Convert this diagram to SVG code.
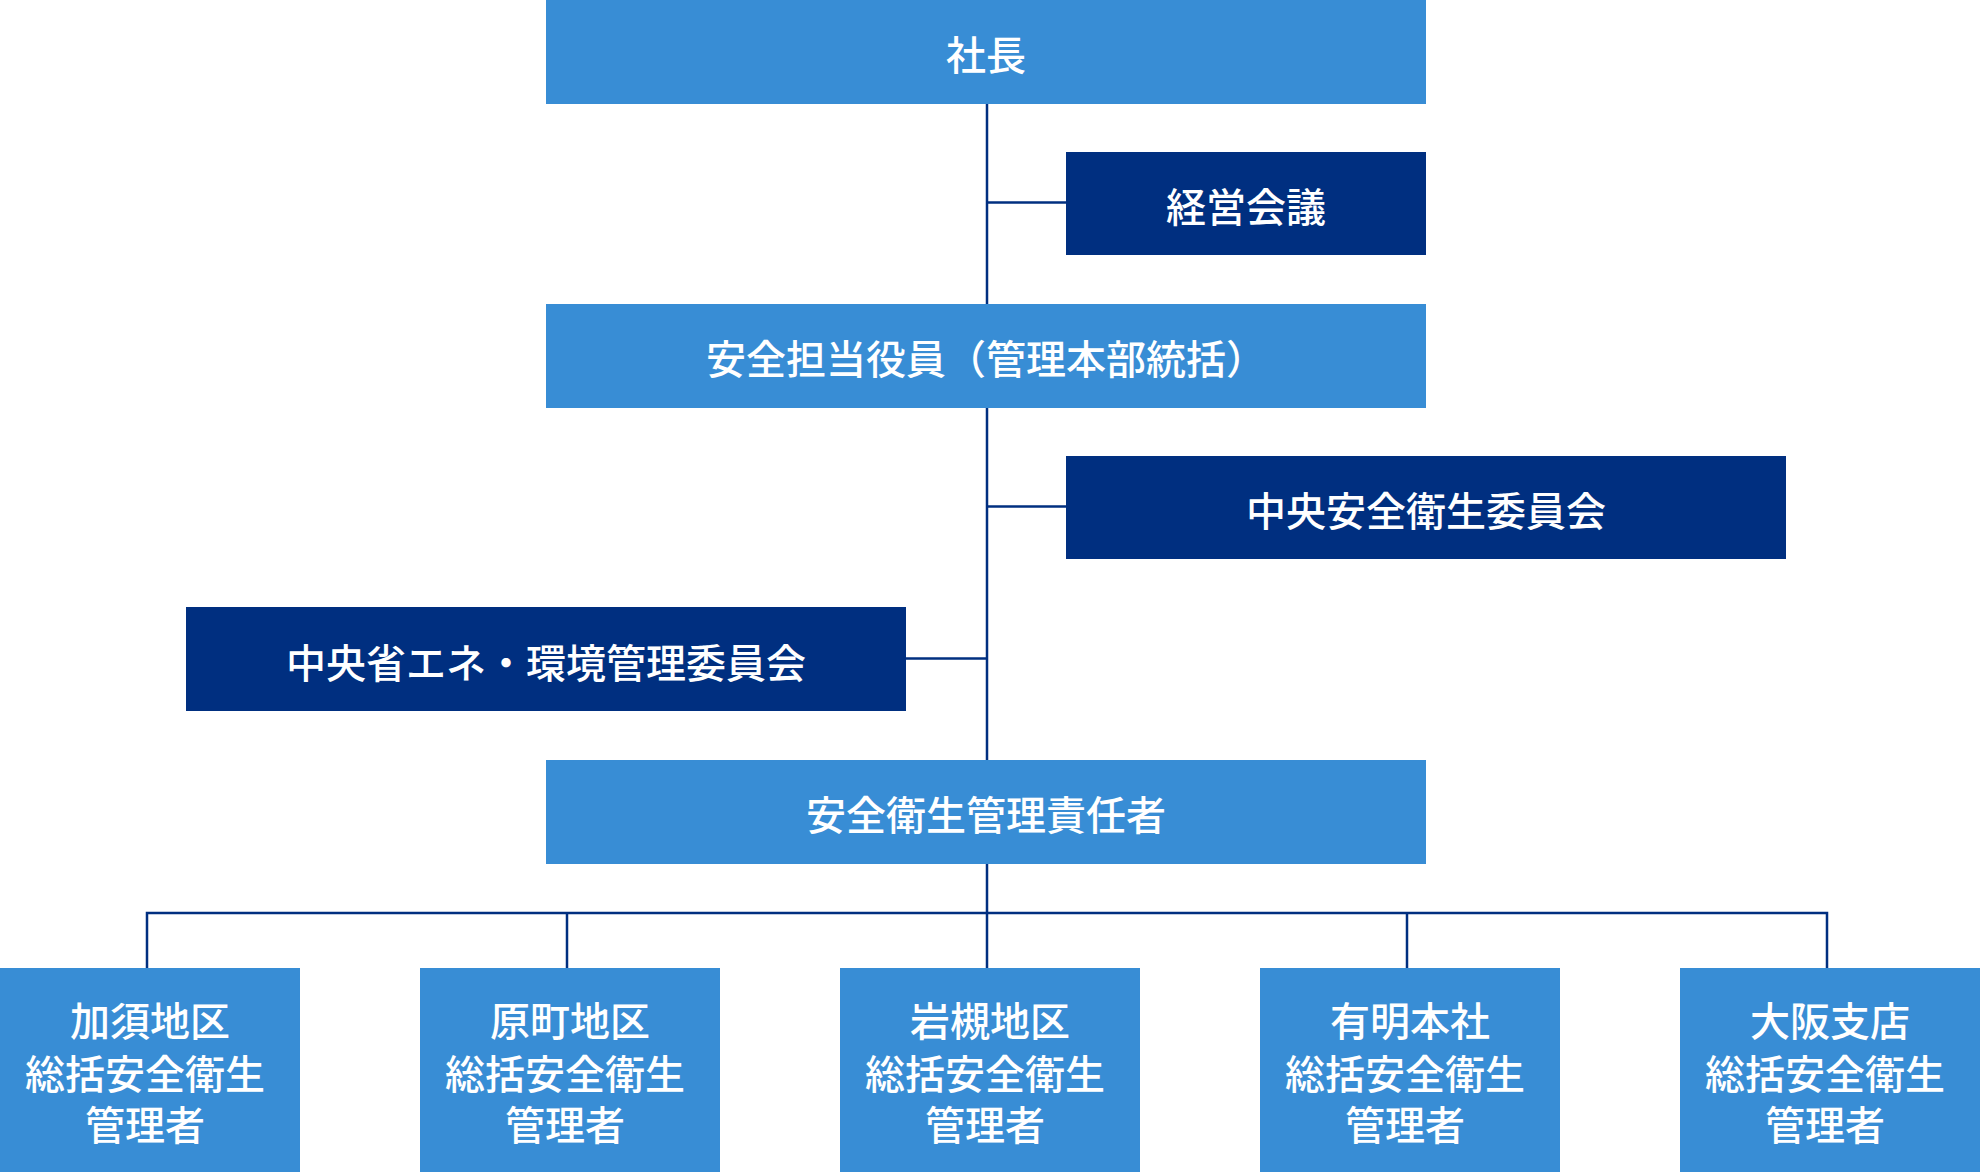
<svg xmlns="http://www.w3.org/2000/svg" width="1980" height="1172" viewBox="0 0 1980 1172">
<style>
.light{fill:#388dd5}
.dark{fill:#002f80}
.t{fill:#ffffff;font-family:"Noto Sans CJK JP","Noto Sans",sans-serif;font-size:40px;font-weight:500;text-anchor:middle}
.c{stroke:#002f80;stroke-width:2.5;fill:none}
</style>
<rect width="1980" height="1172" fill="#ffffff"/>
<g id="connectors">
<line class="c" x1="987" y1="100" x2="987" y2="970"/>
<line class="c" x1="987" y1="202.5" x2="1068" y2="202.5"/>
<line class="c" x1="987" y1="506.5" x2="1068" y2="506.5"/>
<line class="c" x1="904" y1="658.5" x2="987" y2="658.5"/>
<polyline class="c" points="147,970 147,913 1827,913 1827,970"/>
<line class="c" x1="567" y1="913" x2="567" y2="970"/>
<line class="c" x1="1407" y1="913" x2="1407" y2="970"/>
</g>
<g id="shacho"><rect class="light" x="546" y="0" width="880" height="104"/><text class="t" x="986" y="70">社長</text></g>
<g id="keiei"><rect class="dark" x="1066" y="152" width="360" height="103"/><text class="t" x="1246" y="222">経営会議</text></g>
<g id="anzen-tanto"><rect class="light" x="546" y="304" width="880" height="104"/><text class="t" x="986" y="374">安全担当役員（管理本部統括）</text></g>
<g id="chuo-anzen"><rect class="dark" x="1066" y="456" width="720" height="103"/><text class="t" x="1426" y="526">中央安全衛生委員会</text></g>
<g id="chuo-shoene"><rect class="dark" x="186" y="607" width="720" height="104"/><text class="t" x="546" y="678">中央省エネ・環境管理委員会</text></g>
<g id="sekininsha"><rect class="light" x="546" y="760" width="880" height="104"/><text class="t" x="986" y="830">安全衛生管理責任者</text></g>
<g id="kazo"><rect class="light" x="0" y="968" width="300" height="204"/><text class="t" x="150" y="1036">加須地区</text><text class="t" x="145" y="1089">総括安全衛生</text><text class="t" x="145" y="1140">管理者</text></g>
<g id="haramachi"><rect class="light" x="420" y="968" width="300" height="204"/><text class="t" x="570" y="1036">原町地区</text><text class="t" x="565" y="1089">総括安全衛生</text><text class="t" x="565" y="1140">管理者</text></g>
<g id="iwatsuki"><rect class="light" x="840" y="968" width="300" height="204"/><text class="t" x="990" y="1036">岩槻地区</text><text class="t" x="985" y="1089">総括安全衛生</text><text class="t" x="985" y="1140">管理者</text></g>
<g id="ariake"><rect class="light" x="1260" y="968" width="300" height="204"/><text class="t" x="1410" y="1036">有明本社</text><text class="t" x="1405" y="1089">総括安全衛生</text><text class="t" x="1405" y="1140">管理者</text></g>
<g id="osaka"><rect class="light" x="1680" y="968" width="300" height="204"/><text class="t" x="1830" y="1036">大阪支店</text><text class="t" x="1825" y="1089">総括安全衛生</text><text class="t" x="1825" y="1140">管理者</text></g>
</svg>
